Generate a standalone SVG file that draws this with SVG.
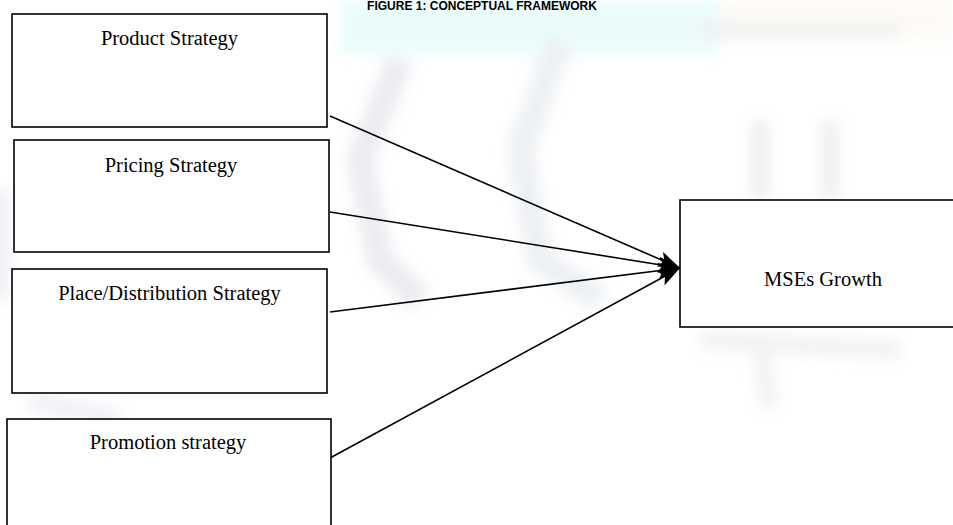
<svg xmlns="http://www.w3.org/2000/svg" width="953" height="525" viewBox="0 0 953 525">
<defs>
<marker id="ah" markerUnits="userSpaceOnUse" markerWidth="24" markerHeight="16" refX="22" refY="8" orient="auto">
<path d="M0,0 L22,8 L0,16 L5,8 Z" fill="#000"/>
</marker>
<filter id="blur" x="-20%" y="-20%" width="140%" height="140%"><feGaussianBlur stdDeviation="7"/></filter>
</defs>
<style>
.box{fill:#fff;stroke:#000;stroke-width:1.6}
.lbl{font-family:"Liberation Serif","Times New Roman",serif;font-size:20.5px;fill:#000;text-anchor:middle}
.edge{stroke:#000;stroke-width:1.6;fill:none;marker-end:url(#ah)}
.title{font-family:"Liberation Sans",Arial,sans-serif;font-size:12px;font-weight:bold;fill:#000;text-anchor:middle}
</style>
<rect width="953" height="525" fill="#fff"/>
<g id="watermark" filter="url(#blur)" opacity="0.35">
<rect x="340" y="0" width="380" height="55" fill="#c8f6f8"/>
<rect x="720" y="0" width="233" height="40" fill="#fbf3e8"/>
<path d="M400,60 L360,160 L380,260 L420,300" stroke="#c9c6d6" stroke-width="26" fill="none"/>
<path d="M560,40 L520,150 L540,260 L600,300" stroke="#cbd3dc" stroke-width="26" fill="none"/>
<path d="M700,30 L900,30" stroke="#d4d4d6" stroke-width="14" fill="none"/>
<path d="M760,120 L760,200 M830,120 L830,200" stroke="#d2d2dc" stroke-width="18" fill="none"/>
<path d="M700,340 L900,350 M760,340 L770,410" stroke="#d6dae0" stroke-width="18" fill="none"/>
<path d="M0,190 L0,300 M30,400 L120,420" stroke="#d6d8e4" stroke-width="20" fill="none"/>
</g>
<text class="title" x="482" y="10">FIGURE 1: CONCEPTUAL FRAMEWORK</text>
<g id="connectors">
<line class="edge" x1="330" y1="116" x2="680" y2="268"/>
<line class="edge" x1="330" y1="212" x2="680" y2="268"/>
<line class="edge" x1="330" y1="312" x2="680" y2="268"/>
<line class="edge" x1="330" y1="458" x2="680" y2="268"/>
</g>
<g id="product">
<rect class="box" x="12" y="14" width="315" height="113"/>
<text class="lbl" x="169.5" y="45">Product Strategy</text>
</g>
<g id="pricing">
<rect class="box" x="14" y="140" width="315" height="112"/>
<text class="lbl" x="171" y="171.5">Pricing Strategy</text>
</g>
<g id="place">
<rect class="box" x="12" y="269" width="315" height="124"/>
<text class="lbl" x="169.5" y="300">Place/Distribution Strategy</text>
</g>
<g id="promotion">
<rect class="box" x="7" y="419" width="324" height="120"/>
<text class="lbl" x="168" y="449">Promotion strategy</text>
</g>
<g id="growth">
<rect class="box" x="680" y="200" width="290" height="127"/>
<text class="lbl" x="823" y="286">MSEs Growth</text>
</g>
</svg>
